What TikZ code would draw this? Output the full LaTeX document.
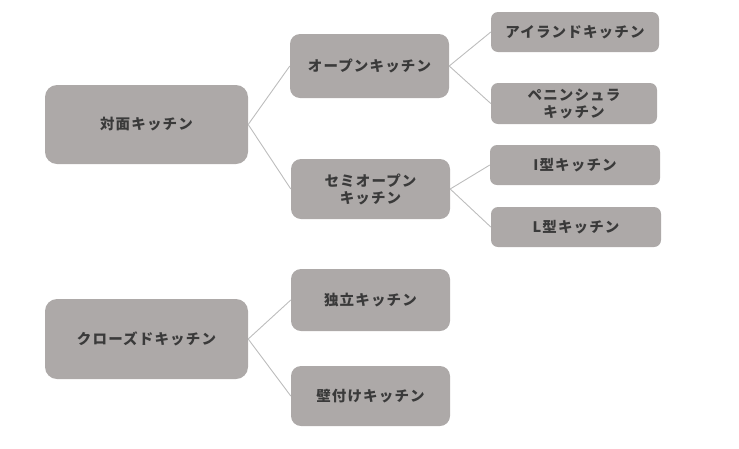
\documentclass[tikz,border=0pt]{standalone}
\usepackage{fontspec}
\newfontfamily\jp[LetterSpace=8]{Noto Sans CJK JP}
\definecolor{boxfill}{HTML}{ADA9A8}
\definecolor{txt}{HTML}{3A3A3A}
\definecolor{ln}{HTML}{BDBDBD}
\begin{document}
\begin{tikzpicture}[x=1pt,y=-1pt,
  box/.style={rectangle,rounded corners=10pt,fill=boxfill,inner sep=0pt,
    text=txt,align=center,font=\jp\bfseries\fontsize{14.5}{17}\selectfont},
  link/.style={draw=ln,line width=0.9pt}]
\useasboundingbox (0,0) rectangle (739,448);
\node[box,minimum width=203pt,minimum height=79pt,rounded corners=12pt] (taimen) at (146.5,124.5) {対面キッチン};
\node[box,minimum width=159pt,minimum height=64pt] (open) at (369.5,66) {オープンキッチン};
\node[box,minimum width=159pt,minimum height=60pt] (semi) at (370.5,189) {セミオープン\\キッチン};
\node[box,minimum width=168pt,minimum height=40pt,rounded corners=7pt] (island) at (575,32) {アイランドキッチン};
\node[box,minimum width=166pt,minimum height=41pt,rounded corners=7pt] (penin) at (574,103.5) {ペニンシュラ\\キッチン};
\node[box,minimum width=170pt,minimum height=40pt,rounded corners=7pt] (Itype) at (575,165) {I型キッチン};
\node[box,minimum width=170pt,minimum height=40pt,rounded corners=7pt] (Ltype) at (576,227) {L型キッチン};
\node[box,minimum width=203pt,minimum height=80pt,rounded corners=12pt] (closed) at (146.5,339) {クローズドキッチン};
\node[box,minimum width=159pt,minimum height=62pt] (dok) at (370.5,300) {独立キッチン};
\node[box,minimum width=159pt,minimum height=60pt] (kabe) at (370.5,396) {壁付けキッチン};
\draw[link] (taimen.east) -- (open.west);
\draw[link] (taimen.east) -- (semi.west);
\draw[link] (open.east) -- (island.west);
\draw[link] (open.east) -- (penin.west);
\draw[link] (semi.east) -- (Itype.west);
\draw[link] (semi.east) -- (Ltype.west);
\draw[link] (closed.east) -- (dok.west);
\draw[link] (closed.east) -- (kabe.west);
\end{tikzpicture}
\end{document}
